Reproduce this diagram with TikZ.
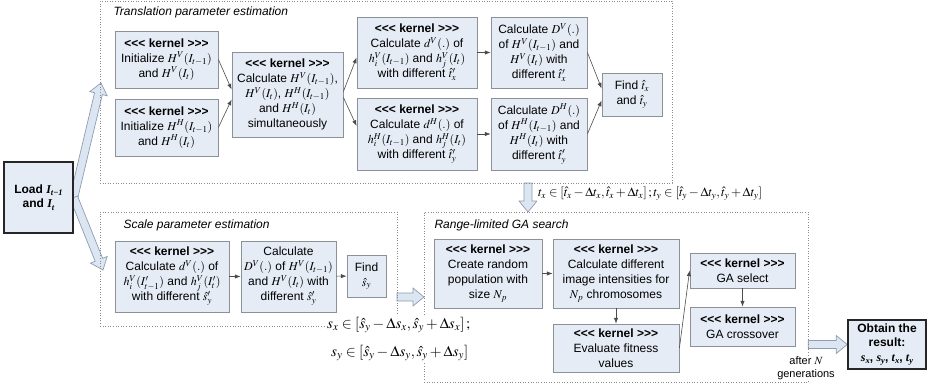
\documentclass[tikz,border=0pt]{standalone}
\usepackage{mathptmx}
\usepackage[no-math]{fontspec}
\setmainfont{Liberation Sans}
\newfontfamily\serifbi{Liberation Serif}
\usetikzlibrary{arrows.meta,calc,backgrounds}
\definecolor{boxfill}{HTML}{E6ECF5}
\definecolor{boxline}{HTML}{8C9198}
\definecolor{bigfill}{HTML}{DCE6F2}
\definecolor{bigline}{HTML}{8E9DB0}
\definecolor{frameline}{HTML}{8A8A8A}
\newcommand\krn{\textbf{<{}<{}< kernel >{}>{}>}}
% bold italic serif letter with subscript
\newcommand\bsub[2]{{\serifbi\bfseries\itshape #1\raisebox{-.45ex}{\fontsize{8.5}{9}\selectfont #2}}}
\tikzset{>=Latex,
  every node/.style={font=\fontsize{12}{15}\selectfont},
  kbox/.style={draw=boxline,fill=boxfill,line width=.8pt,align=center,inner sep=0pt},
  size/.style 2 args={minimum width=#1pt,minimum height=#2pt},
  endbox/.style={kbox,draw=black!85,line width=1.6pt,
    font=\fontsize{12}{14.5}\selectfont\bfseries},
  frame/.style={draw=frameline,dotted,line width=.6pt,inner sep=0pt},
  title/.style={anchor=west,font=\fontsize{12}{14}\selectfont\itshape},
  link/.style={->,draw=black!70,line width=.6pt},
  bigarrow/.style={draw=bigline,fill=bigfill,line width=.7pt,line join=miter},
  note/.style={fill=white,inner sep=1pt}}
% hollow block arrow: #1 tail, #2 tip
\newcommand\hollowarrow[2]{%
  \coordinate (hb) at ($(#2)!11pt!(#1)$);
  \filldraw[bigarrow] ($(#1)!4pt!90:(#2)$) -- ($(hb)!4pt!-90:(#1)$)
    -- ($(hb)!9pt!-90:(#1)$) -- (#2) -- ($(hb)!9pt!90:(#1)$)
    -- ($(hb)!4pt!90:(#1)$) -- ($(#1)!4pt!-90:(#2)$) -- cycle;}

\begin{document}
\begin{tikzpicture}[x=1pt,y=-1pt]
\useasboundingbox (0,0) rectangle (934,388);
% frames
\node[frame,minimum width=572pt,minimum height=182pt] (trans) at (386,92) {};
\node[frame,minimum width=297pt,minimum height=114pt] (scale) at (248.5,269) {};
\node[frame,minimum width=384pt,minimum height=170pt] (ga) at (616,297) {};
\node[title] (ttrans) at (110,12) {Translation parameter estimation};
\node[title] (tscale) at (120,225) {Scale parameter estimation};
\node[title] (tga) at (431,225) {Range-limited GA search};

\node[endbox,size={69}{71}] (load) at (38.5,197.5) {Load \bsub{I}{t−1}\\and \bsub{I}{t}};
\node[endbox,size={78}{49}] (obtain) at (887,344.5) {Obtain the\\result:\\\bsub{s}{x}, \bsub{s}{y}, \bsub{t}{x}, \bsub{t}{y}};

% translation
\node[kbox,size={103}{57}] (initv) at (166.5,59.5) {\krn\\Initialize $H^V(I_{t-1})$\\and $H^V(I_t)$};
\node[kbox,size={103}{57}] (inith) at (166.5,127.5) {\krn\\Initialize $H^H(I_{t-1})$\\and $H^H(I_t)$};
\node[kbox,size={111}{85}] (calcall) at (287.5,94.5) {\krn\\Calculate $H^V(I_{t-1})$,\\$H^V(I_t)$, $H^H(I_{t-1})$\\and $H^H(I_t)$\\simultaneously};
\node[kbox,size={120}{71}] (smalldv) at (417,52.5) {\krn\\Calculate $d^V(.)$ of\\$h_i^V(I_{t-1})$ and $h_j^V(I_t)$\\with different $\hat{t}'_x$};
\node[kbox,size={120}{72}] (smalldh) at (417,134) {\krn\\Calculate $d^H(.)$ of\\$h_i^H(I_{t-1})$ and $h_j^H(I_t)$\\with different $\hat{t}'_y$};
\node[kbox,size={96}{71}] (bigdv) at (539,52.5) {Calculate $D^V(.)$\\of $H^V(I_{t-1})$ and\\$H^V(I_t)$ with\\different $\hat{t}'_x$};
\node[kbox,size={96}{72}] (bigdh) at (539,134) {Calculate $D^H(.)$\\of $H^H(I_{t-1})$ and\\$H^H(I_t)$ with\\different $\hat{t}'_y$};
\node[kbox,size={60}{43}] (findt) at (632,94.5) {Find $\hat{t}_x$\\and $\hat{t}_y$};

% scale
\node[kbox,size={114}{71}] (scd) at (172,276.5) {\krn\\Calculate $d^V(.)$ of\\$h_i^V(I'_{t-1})$ and $h_j^V(I'_t)$\\with different $\hat{s}'_y$};
\node[kbox,size={95}{71}] (scD) at (288.5,276.5) {Calculate\\$D^V(.)$ of $H^V(I_{t-1})$\\and $H^V(I_t)$ with\\different $\hat{s}'_y$};
\node[kbox,size={39}{42}] (finds) at (366.5,276) {Find\\$\hat{s}_y$};

% GA search
\node[kbox,size={108}{69}] (create) at (488,273.5) {\krn\\Create random\\population with\\size $N_p$};
\node[kbox,size={126}{69}] (calcdiff) at (616,273.5) {\krn\\Calculate different\\image intensities for\\$N_p$ chromosomes};
\node[kbox,size={126}{48}] (eval) at (616,348) {\krn\\Evaluate fitness\\values};
\node[kbox,size={105}{35}] (select) at (742.5,270.5) {\krn\\GA select};
\node[kbox,size={105}{39}] (cross) at (742.5,326.5) {\krn\\GA crossover};

\draw[link] (initv.east) -- ([yshift=5pt]calcall.west);
\draw[link] (inith.east) -- ([yshift=-5pt]calcall.west);
\draw[link] ([yshift=3pt]calcall.east) -- ([yshift=-5pt]smalldv.west);
\draw[link] ([yshift=-3pt]calcall.east) -- ([yshift=8pt]smalldh.west);
\draw[link] (smalldv) -- (bigdv);
\draw[link] (smalldh) -- (bigdh);
\draw[link] (bigdv.east) -- ([yshift=6pt]findt.west);
\draw[link] (bigdh.east) -- ([yshift=-6pt]findt.west);
\draw[link] (scd) -- (scD);
\draw[link] (scD) -- (finds);
\draw[link] (create) -- (calcdiff);
\draw[link] (calcdiff) -- (eval);
\draw[link] (eval.east) -- (select.west);
\draw[link] (select) -- (cross);

\node[note,anchor=west,font=\fontsize{12.8}{14}\selectfont] (trange) at (537,194)
  {$t_x \in \left[\hat{t}_x - \Delta t_x, \hat{t}_x + \Delta t_x\right]; t_y \in \left[\hat{t}_y - \Delta t_y, \hat{t}_y + \Delta t_y\right]$};
\node[note,anchor=west,align=left,font=\fontsize{15}{28}\selectfont] (srange) at (326,339)
  {$s_x \in \left[\hat{s}_y - \Delta s_x, \hat{s}_y + \Delta s_x\right];$\\
  \hspace{4pt}$s_y \in \left[\hat{s}_y - \Delta s_y, \hat{s}_y + \Delta s_y\right]$};
\node[note,align=center,font=\fontsize{11}{12.5}\selectfont] (after) at (806,368) {after $N$\\generations};

\coordinate (transin) at (101,83);
\coordinate (scalein) at (103,270);
\coordinate (transout) at (528,183);
\coordinate (gain) at (528,212);
\coordinate (scaleout) at (397,297);
\coordinate (gaside) at (424,297);
\coordinate (gaout) at (ga.east |- obtain.west);
\begin{scope}[on background layer]
\hollowarrow{load.east}{transin}
\hollowarrow{load.east}{scalein}
\hollowarrow{transout}{gain}
\hollowarrow{scaleout}{gaside}
\hollowarrow{gaout}{obtain.west}
\end{scope}
\end{tikzpicture}
\end{document}
